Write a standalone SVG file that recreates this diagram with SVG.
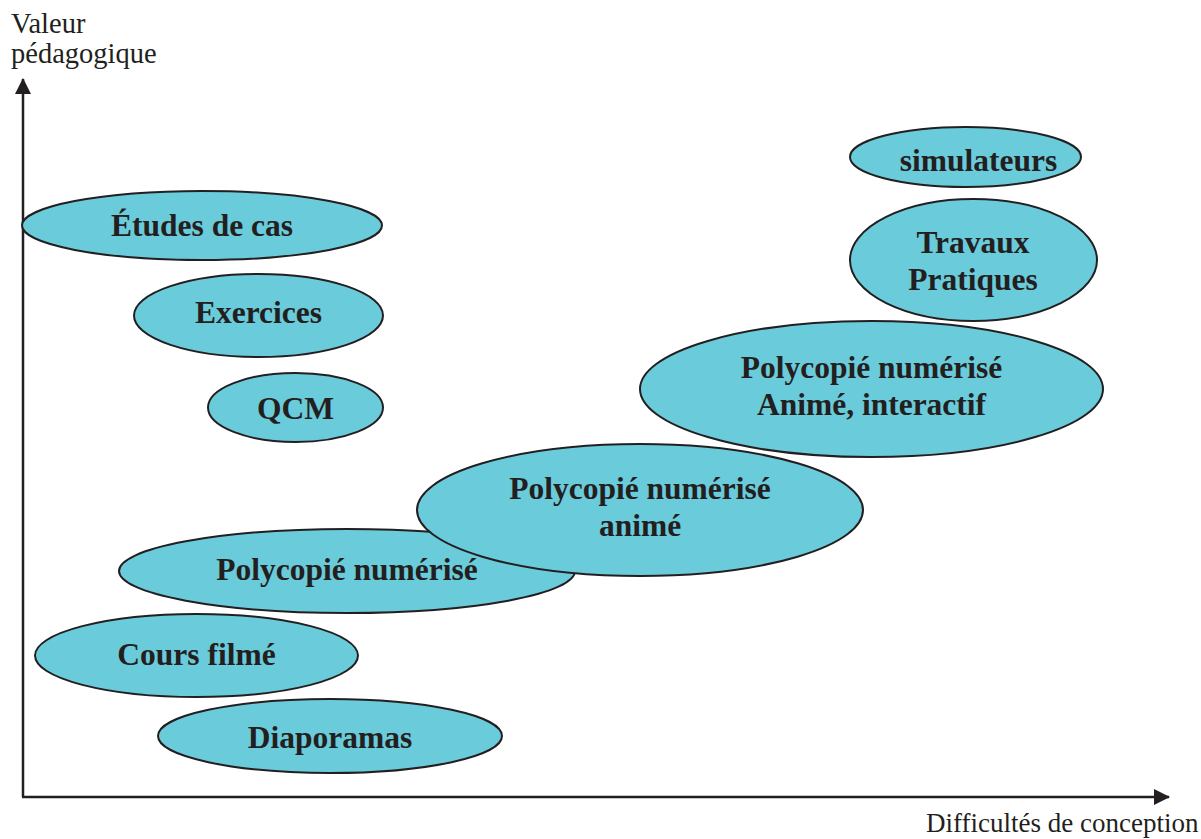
<svg xmlns="http://www.w3.org/2000/svg" width="1201" height="839" viewBox="0 0 1201 839">
<style>
.n{fill:#6ACBDB;stroke:#231F20;stroke-width:2}
.t{font-family:"Liberation Serif","Times New Roman",serif;font-weight:bold;font-size:31.5px;fill:#231F20;text-anchor:middle}
.a{font-family:"Liberation Serif","Times New Roman",serif;font-size:27px;fill:#231F20}
.ax{stroke:#231F20;stroke-width:2.5;fill:none}
</style>
<defs>
<marker id="arr" markerUnits="userSpaceOnUse" markerWidth="16" markerHeight="16" viewBox="0 0 16 16" refX="15" refY="8" orient="auto">
<path d="M0,0 L16,8 L0,16 Z" fill="#231F20"/>
</marker>
</defs>
<rect width="1201" height="839" fill="#fff"/>
<g id="axes">
<line class="ax" x1="23" y1="797" x2="23" y2="79" marker-end="url(#arr)"/>
<line class="ax" x1="22" y1="797" x2="1169" y2="797" marker-end="url(#arr)"/>
<text class="a" x="11" y="33" style="font-size:28.5px">Valeur</text>
<text class="a" x="11" y="63" style="font-size:28.5px">pédagogique</text>
<text class="a" x="926" y="832">Difficultés de conception</text>
</g>
<g id="connectors"></g>
<g id="etudes"><ellipse class="n" cx="202" cy="225.5" rx="180" ry="34.5"/><text class="t" x="202" y="236">Études de cas</text></g>
<g id="exercices"><ellipse class="n" cx="258.5" cy="315.5" rx="124.5" ry="41.5"/><text class="t" x="258.5" y="323">Exercices</text></g>
<g id="qcm"><ellipse class="n" cx="295.5" cy="407.5" rx="87.5" ry="34.5"/><text class="t" x="295.5" y="419">QCM</text></g>
<g id="simulateurs"><ellipse class="n" cx="965.5" cy="157" rx="115.5" ry="30"/><text class="t" x="978.5" y="171">simulateurs</text></g>
<g id="tp"><ellipse class="n" cx="973.5" cy="260" rx="123.5" ry="61"/><text class="t" x="973" y="253">Travaux</text><text class="t" x="973" y="290">Pratiques</text></g>
<g id="poly-interactif"><ellipse class="n" cx="871.5" cy="389" rx="231.5" ry="68"/><text class="t" x="871.5" y="378">Polycopié numérisé</text><text class="t" x="871.5" y="415">Animé, interactif</text></g>
<g id="poly"><ellipse class="n" cx="347" cy="571" rx="228" ry="42"/><text class="t" x="347" y="580">Polycopié numérisé</text></g>
<g id="poly-anime"><ellipse class="n" cx="640" cy="510" rx="223" ry="66"/><text class="t" x="640" y="499">Polycopié numérisé</text><text class="t" x="640" y="536">animé</text></g>
<g id="cours"><ellipse class="n" cx="196.5" cy="655.5" rx="161.5" ry="41.5"/><text class="t" x="196.5" y="665">Cours filmé</text></g>
<g id="diaporamas"><ellipse class="n" cx="330" cy="736" rx="172" ry="37"/><text class="t" x="330" y="748">Diaporamas</text></g>
</svg>
